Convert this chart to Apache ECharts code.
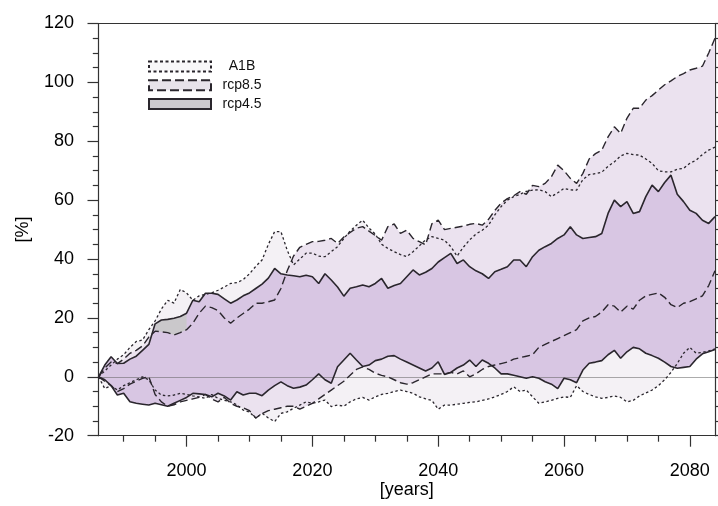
<!DOCTYPE html>
<html>
<head>
<meta charset="utf-8">
<script src="https://cdn.jsdelivr.net/npm/echarts@6/dist/echarts.min.js"></script>
<style>
html,body{margin:0;padding:0;background:#fff;}
#chart{width:718px;height:506px;}
</style>
</head>
<body>
<div id="chart"></div>
<script>
const years = [1986,1987,1988,1989,
1990,1991,1992,1993,1994,1995,1996,1997,1998,1999,
2000,2001,2002,2003,2004,2005,2006,2007,2008,2009,
2010,2011,2012,2013,2014,2015,2016,2017,2018,2019,
2020,2021,2022,2023,2024,2025,2026,2027,2028,2029,
2030,2031,2032,2033,2034,2035,2036,2037,2038,2039,
2040,2041,2042,2043,2044,2045,2046,2047,2048,2049,
2050,2051,2052,2053,2054,2055,2056,2057,2058,2059,
2060,2061,2062,2063,2064,2065,2066,2067,2068,2069,
2070,2071,2072,2073,2074,2075,2076,2077,2078,2079,
2080,2081,2082,2083,2084];

const a1bHi = [0,2,4,6,
7.5,10,12,12.5,16,19,23,26,25,29.7,
28.5,26,27.5,28,28.5,29.4,30.5,31.7,32,33,
35,37.5,39.7,45,49.3,49.3,43,38,40,42,
42,41,40.8,42.5,44.2,47,49.5,51.5,53.2,50.5,
48.5,45,43.6,42.5,41.5,40.8,42.5,44.5,46.5,47.6,
47,46.4,44.2,41,44,46.5,48.5,49.8,51.5,55,
57.8,60,61.2,62,63,63.4,63.5,62.9,61.2,62.5,
64,63.5,63.4,67,68.7,69,69.5,71.5,73,75,
75.9,75.5,75.3,74,72.5,70,69.6,69.6,70.5,70.8,
72.5,73.6,75.5,77,78];

const a1bLo = [0,-4,-3,-4.5,
-3,-2,-1,0,-1,-4.5,-6.2,-6.5,-6.2,-5.6,
-6,-6.5,-6.8,-7.3,-6,-7.3,-8,-8.5,-9.5,-11.3,
-12,-14,-12.4,-14,-15.2,-12.4,-11.9,-10.7,-9.6,-8.5,
-9,-8.5,-7.9,-10.1,-9.6,-10,-8.5,-7.5,-7,-7.9,
-6.8,-6,-5.6,-5,-4.5,-5,-5.6,-6.8,-7.5,-8,
-11,-9.6,-9.6,-9.3,-9,-8.7,-8.5,-8,-7.5,-6.8,
-6,-5,-3.4,-5,-4.5,-6.8,-9,-8.5,-8,-7.3,
-6.8,-7,-3,-5,-6,-6.8,-7.3,-7,-6.5,-7,
-8.5,-8,-6.5,-5.5,-4.5,-3,-1,1.5,4.5,8,
10,8,8.3,8.8,9.5];

const r85Hi = [0,3,5,4.5,
6,8,9,10.5,13.5,15.5,15.3,15,14.2,15,
16,18.2,21.6,24,23.5,22.5,20,18.2,20,21.5,
23,25,25,25.5,26.1,30,36,41,44,45,
45.9,46,46.4,47,45.3,47.5,49,50.5,51,49.5,
48,46.4,51,51.9,48.7,49.8,47,45.9,44.8,52,
53.2,50,50.4,50.8,51.2,51.8,52.1,51.5,53.5,56.5,
59,60.5,61.5,62.9,62,65,64.6,65.7,68,71.9,
70,67.4,65.7,69.1,74,75.8,77,81.5,84.9,82.7,
87.8,91.2,91.2,94,95.5,97.4,99.2,100.5,102,103,
104.2,104.8,105.5,110,115];

const r85Lo = [0,-1.5,-3,-5,
-4,-2.5,-1.5,-0.5,0,-6,-8.5,-10,-9.5,-8.5,
-8,-7.5,-7,-6,-7.5,-8.5,-7,-9,-10,-10.5,
-11.5,-14,-12.5,-11.5,-11,-10.5,-10,-10,-11,-10,
-9,-7.5,-6,-4.5,-3,-1.5,0.5,2.5,3.4,2.5,
1.2,0.5,0,-1,-2,-2.5,-2,-1,0,1,
1,1,1.5,1,2,0,1,2.5,3.5,4,
4.5,5,6,6.5,7,7.5,10,11,12,13,
14,15,16,19,20,20.5,22,24.5,24,22,
24,23,26,27.5,28,28.5,27,24.5,23.5,25,
25.5,26.5,27.5,31,36];

const r45Hi = [0,4,6.8,4.5,
4.6,6,7,9,11,18,19.3,19.5,19.9,20.5,
21.6,26,25.5,28.4,28.4,28,26.5,25,26.1,27.5,
28.5,30,31.5,33.5,36.8,35,34.6,34.3,34,34.5,
34,31.7,35,32.9,30.5,27.4,30.1,30.6,31.2,30.6,
31.7,33.4,30.1,31,31.7,34,36.3,34.6,35.5,36.8,
39,40.5,41.9,38.5,39.7,37.4,36,35,33.4,35.7,
36.5,37.4,39.7,39.7,37.4,40.8,43,44.2,45.3,47,
48.2,51,48.2,47,47.3,47.6,48.7,55.5,60,57.8,
59.5,55.5,56.1,61.2,65.1,62.9,66,68.5,62,59.5,
56.6,55.5,53.2,52.1,54.4];

const r45Lo = [0,-1,-3,-6.2,
-5.6,-8.5,-9,-9.3,-9.6,-9,-9.5,-10,-9,-8,
-7,-5.6,-5.8,-6,-6.8,-5.6,-6.5,-7.9,-5.1,-6.2,
-5.6,-5.6,-6.4,-4.5,-3,-1.7,-3,-3.9,-3.5,-2.8,
-1,1,-1,-2.2,3.4,5.7,8,5.7,3.5,4,
5.5,6,7,7.2,6,5,4,3,2,3,
5.1,0.8,1.5,3,4,5.7,3.5,5.7,4.6,3,
1,1,0.5,0,-0.5,0,-0.5,-1.7,-2.5,-4,
-0.5,-1,-2,2.3,4.6,5,5.5,7.5,9,6.3,
8.5,10,9.5,8,7.2,6.3,5,3.5,2.9,3.2,
3.5,6,7.8,8.5,9.3];

const legendNames = ['A1B', 'rcp8.5', 'rcp4.5'];
const xTickValues = [2000, 2020, 2040, 2060, 2080];
const xMinorTickValues = [1990,1995,2005,2010,2015,2025,2030,2035,2045,2050,2055,2065,2070,2075];
const yTicks = [-20, 0, 20, 40, 60, 80, 100, 120];
const greyPatchYears = [1995, 2000];

const FONT = 'Liberation Sans, Arial, Helvetica, sans-serif';
const chart = echarts.init(document.getElementById('chart'), null, {renderer: 'canvas'});

function band(name, hi, lo, fill, z, yFrom, yTo) {
  const i0 = yFrom == null ? 0 : years.indexOf(yFrom);
  const i1 = yTo == null ? years.length - 1 : years.indexOf(yTo);
  return {
    type: 'custom', name: name, z: z, silent: true,
    data: [[years[0], 0]],
    clip: true,
    renderItem: function (params, api) {
      const pts = [];
      for (let i = i0; i <= i1; i++) pts.push(api.coord([years[i], hi[i]]));
      for (let i = i1; i >= i0; i--) pts.push(api.coord([years[i], lo[i]]));
      return {type: 'polygon', shape: {points: pts}, style: {fill: fill, stroke: null}};
    }
  };
}

function line(name, arr, type, width) {
  return {
    type: 'line', name: name, z: 10, silent: true,
    data: years.map((y, i) => [y, arr[i]]),
    symbol: 'none', showSymbol: false,
    lineStyle: {color: '#2a262d', width: width, type: type},
    animation: false
  };
}

const axisLineStyle = {color: '#333', width: 1.2};
const plainYear = function (v) { return String(v); };

const a1bBand = band('A1B', a1bHi, a1bLo, '#f4f1f5', 1);
const r85Band = band('rcp8.5', r85Hi, r85Lo, '#ebe2ef', 2);
const r45Band = band('rcp4.5', r45Hi, r45Lo, '#d8c6e3', 3);
r45Band.markLine = {
  silent: true, symbol: 'none', animation: false,
  label: {show: false},
  lineStyle: {color: 'rgba(90,90,90,0.5)', width: 1.2, type: 'solid'},
  data: [{yAxis: 0}]
};
const patch = band('patch', r45Hi, r85Hi, '#cac8cb', 4, greyPatchYears[0], greyPatchYears[1]);

const option = {
  animation: false,
  backgroundColor: '#fff',
  grid: {left: 98.5, right: 3, top: 23.5, bottom: 70.3, containLabel: false, outerBoundsMode: 'none'},
  legend: {
    orient: 'vertical', left: 143, top: 54.5,
    itemWidth: 62, itemHeight: 10, itemGap: 4.7,
    selectedMode: false,
    formatter: function (n) { return '{c|' + n + '}'; },
    textStyle: {
      fontFamily: FONT, fontSize: 14, color: '#111', lineHeight: 14,
      rich: {c: {width: 52, align: 'center', fontFamily: FONT, fontSize: 14, color: '#111', lineHeight: 14}}
    },
    data: [
      {name: legendNames[0], icon: 'rect', itemStyle: {color: '#f8f7f9', borderColor: '#2a262d', borderWidth: 2, borderType: [3, 2.5]}},
      {name: legendNames[1], icon: 'rect', itemStyle: {color: '#e7e2ea', borderColor: '#2a262d', borderWidth: 2, borderType: [9, 4]}},
      {name: legendNames[2], icon: 'rect', itemStyle: {color: '#cbc8cd', borderColor: '#2a262d', borderWidth: 2, borderType: 'solid'}}
    ]
  },
  xAxis: [
    {
      type: 'value', min: years[0], max: years[years.length - 1], position: 'bottom',
      axisLine: {show: true, onZero: false, lineStyle: axisLineStyle},
      axisTick: {show: true, inside: false, length: 11, customValues: xTickValues, lineStyle: axisLineStyle},
      axisLabel: {show: true, customValues: xTickValues, formatter: plainYear, fontFamily: FONT, fontSize: 18, color: '#000', margin: 26},
      splitLine: {show: false},
      name: '[years]', nameLocation: 'middle', nameGap: 45.5, nameMoveOverlap: false,
      nameTextStyle: {fontFamily: FONT, fontSize: 18, color: '#000'}
    },
    {
      type: 'value', min: years[0], max: years[years.length - 1], position: 'bottom',
      axisLine: {show: false, onZero: false},
      axisTick: {show: true, inside: false, length: 6, customValues: xMinorTickValues, lineStyle: axisLineStyle},
      axisLabel: {show: false},
      splitLine: {show: false}
    },
    {
      type: 'value', min: years[0], max: years[years.length - 1], position: 'top',
      axisLine: {show: true, onZero: false, lineStyle: axisLineStyle},
      axisTick: {show: false}, axisLabel: {show: false}, splitLine: {show: false}
    }
  ],
  yAxis: [
    {
      type: 'value', min: yTicks[0], max: yTicks[yTicks.length - 1], interval: 20, position: 'left',
      axisLine: {show: true, onZero: false, lineStyle: axisLineStyle},
      axisTick: {show: true, inside: false, length: 11, lineStyle: axisLineStyle},
      minorTick: {show: true, splitNumber: 4, length: 5.7, lineStyle: axisLineStyle},
      axisLabel: {fontFamily: FONT, fontSize: 18, color: '#000', margin: 24.5},
      splitLine: {show: false}, minorSplitLine: {show: false},
      name: '[%]', nameLocation: 'middle', nameGap: 66, nameRotate: 90, nameMoveOverlap: false,
      nameTextStyle: {fontFamily: FONT, fontSize: 18, color: '#000'}
    },
    {
      type: 'value', min: yTicks[0], max: yTicks[yTicks.length - 1], interval: 20, position: 'right',
      axisLine: {show: true, onZero: false, lineStyle: axisLineStyle},
      axisTick: {show: true, inside: false, length: 6, lineStyle: axisLineStyle},
      minorTick: {show: true, splitNumber: 4, length: 4, lineStyle: axisLineStyle},
      axisLabel: {show: false},
      splitLine: {show: false}, minorSplitLine: {show: false}
    }
  ],
  series: [
    a1bBand, r85Band, r45Band, patch,
    line('A1B upper', a1bHi, [2.5, 2.5], 1.3),
    line('A1B lower', a1bLo, [2.5, 2.5], 1.3),
    line('rcp8.5 upper', r85Hi, [8, 4], 1.4),
    line('rcp8.5 lower', r85Lo, [8, 4], 1.4),
    line('rcp4.5 upper', r45Hi, 'solid', 1.6),
    line('rcp4.5 lower', r45Lo, 'solid', 1.6)
  ]
};
chart.setOption(option);
</script>
</body>
</html>
